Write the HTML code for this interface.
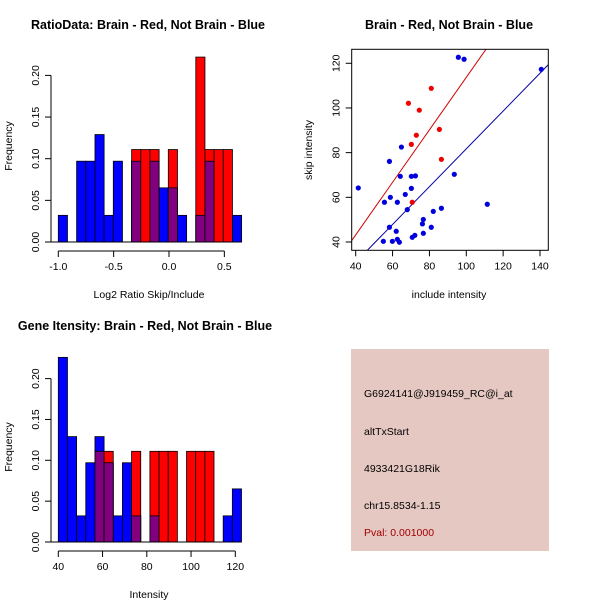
<!DOCTYPE html>
<html><head><meta charset="utf-8"><style>
body{margin:0;background:#fff}
svg{display:block;font-family:"Liberation Sans",sans-serif}
</style></head><body>
<svg id="c" width="600" height="600" xmlns="http://www.w3.org/2000/svg">
<text x="148" y="29" text-anchor="middle" font-weight="bold" font-size="12.5">RatioData: Brain - Red, Not Brain - Blue</text>
<text x="449" y="29" text-anchor="middle" font-weight="bold" font-size="12.5">Brain - Red, Not Brain - Blue</text>
<text x="145" y="330" text-anchor="middle" font-weight="bold" font-size="12.5">Gene Itensity: Brain - Red, Not Brain - Blue</text>
<text x="149" y="298" text-anchor="middle" font-size="10.5">Log2 Ratio Skip/Include</text>
<text x="149" y="598" text-anchor="middle" font-size="10.5">Intensity</text>
<text x="449" y="298" text-anchor="middle" font-size="10.5">include intensity</text>
<text transform="translate(12,146) rotate(-90)" text-anchor="middle" font-size="10.5">Frequency</text>
<text transform="translate(12,447) rotate(-90)" text-anchor="middle" font-size="10.5">Frequency</text>
<text transform="translate(312,150) rotate(-90)" text-anchor="middle" font-size="10.5">skip intensity</text>
<g>
<rect x="351" y="349" width="198" height="202" fill="#e6c8c2"/>
<text x="364" y="397" font-size="10.5">G6924141@J919459_RC@i_at</text>
<text x="364" y="435" font-size="10.5">altTxStart</text>
<text x="364" y="472" font-size="10.5">4933421G18Rik</text>
<text x="364" y="509" font-size="10.5">chr15.8534-1.15</text>
<text x="364" y="536" font-size="10.5" fill="#a00000">Pval: 0.001000</text>
</g>
</svg>
<script>
// ---- data: ratio histogram ----
const ratioBinStart = -1.0;
const ratioBinWidth = 0.0828;
const ratioBlue = [0.032,0,0.097,0.097,0.129,0.032,0.097,0,0.097,0,0.097,0.065,0.065,0.032,0,0.032,0.097,0,0,0.032];
const ratioRed  = [0,0,0,0,0,0,0,0,0.111,0.111,0.111,0,0.111,0,0,0.222,0.111,0.111,0.111,0];
const ratioXTicks = [-1.0,-0.5,0.0,0.5];
const ratioXLabels = ["-1.0","-0.5","0.0","0.5"];
const freqTicks = [0,0.05,0.10,0.15,0.20];
const freqLabels = ["0.00","0.05","0.10","0.15","0.20"];
// ---- data: intensity histogram ----
const intBinStart = 40;
const intBinWidth = 4.14;
const intBlue = [0.226,0.129,0.032,0.097,0.129,0.097,0.032,0.097,0.032,0,0.032,0,0,0,0,0,0,0,0.032,0.065];
const intRed  = [0,0,0,0,0.111,0.111,0,0,0.111,0,0.111,0.111,0.111,0,0.111,0.111,0.111,0,0,0];
const intXTicks = [40,60,80,100,120];
// ---- data: scatter ----
const blueInclude = [41.4,55.6,58.3,58.8,64.8,64.2,62.6,66.9,68,70.2,72.4,70.2,58.3,62,55,59.9,62.6,63.7,70.7,72.1,76.2,76.7,76.7,81,82.1,86.5,93.5,95.7,98.8,111.4,140.7];
const blueSkip    = [64.2,57.8,76.1,60,82.5,69.4,57.8,61.3,54.5,69.4,69.6,64,46.6,44.8,40.3,40.3,41.2,39.9,42.1,43,48.1,50.1,43.9,46.6,53.7,55.1,70.3,122.7,121.8,56.9,117.3];
const redInclude  = [68.6,74.5,81,72.9,70.2,85.4,86.5,70.7];
const redSkip     = [102.1,99,108.8,87.8,83.7,90.4,77,57.8];
const redFit  = [-3.8,1.175];   // intercept, slope
const blueFit = [-2.9,0.846];
const scatXTicks = [40,60,80,100,120,140];
const scatYTicks = [40,60,80,100,120];

const svg = document.getElementById('c');
const NS = 'http://www.w3.org/2000/svg';
function mk(tag, attrs, parent){
  const e = document.createElementNS(NS, tag);
  for (const k in attrs) e.setAttribute(k, attrs[k]);
  (parent||svg).appendChild(e);
  return e;
}
function txt(x,y,s,attrs,parent){const t=mk('text',Object.assign({x:x,y:y,'font-size':10.5,'text-anchor':'middle'},attrs||{}),parent);t.textContent=s;return t;}

function histogram(prefix, xs, ys, binStart, binW, blue, red, xTicks, xLabels, axY, axX){
  const g = mk('g',{});
  
  
  for (let i=0;i<blue.length;i++){
    const x0 = xs(binStart+i*binW), x1 = xs(binStart+(i+1)*binW);
    const b = blue[i], r = red[i];
    if (b>0){
      const e = mk('rect',{x:x0,y:ys(b),width:x1-x0,height:ys(0)-ys(b),fill:'#0000ff',stroke:'#000','stroke-width':0.8},g);
      
      
    }
    if (r>0){
      const e = mk('rect',{x:x0,y:ys(r),width:x1-x0,height:ys(0)-ys(r),fill:'#ff0000',stroke:'#000','stroke-width':0.8},g);
      
      
    }
    const m = Math.min(b,r);
    if (m>0){
      const e = mk('rect',{x:x0,y:ys(m),width:x1-x0,height:ys(0)-ys(m),fill:'#800080',stroke:'#000','stroke-width':0.8},g);
      
      
    }
  }
  // y axis
  const ya = mk('g',{});
  
  
  mk('line',{x1:axX,x2:axX,y1:ys(freqTicks[0]),y2:ys(freqTicks[freqTicks.length-1]),stroke:'#000'},ya);
  freqTicks.forEach((v,i)=>{
    mk('line',{x1:axX,x2:axX-6,y1:ys(v),y2:ys(v),stroke:'#000'},ya);
    const t = txt(0,0,freqLabels[i],{transform:`translate(${axX-12},${ys(v)}) rotate(-90)`},ya);
    
    
  });
  mk('line',{x1:axX,x2:xs(binStart+blue.length*binW),y1:ys(0),y2:ys(0),stroke:'#000'},svg);
  const xa = mk('g',{});
  
  
  mk('line',{x1:xs(xTicks[0]),x2:xs(xTicks[xTicks.length-1]),y1:axY,y2:axY,stroke:'#000'},xa);
  xTicks.forEach((v,i)=>{
    mk('line',{x1:xs(v),x2:xs(v),y1:axY,y2:axY+6,stroke:'#000'},xa);
    const t = txt(xs(v),axY+19,xLabels[i],{},xa);
    
    
  });
}

// ratio histogram scales
const rxs = v => 58.3 + (v+1.0)*110.7;
const rys = v => 242 - v*833;
histogram('ratio', rxs, rys, ratioBinStart, ratioBinWidth, ratioBlue, ratioRed, ratioXTicks, ratioXLabels, 251, 51);
// intensity histogram
const ixs = v => 58.3 + (v-40)*2.2125;
const iys = v => 542 - v*817;
histogram('intensity', ixs, iys, intBinStart, intBinWidth, intBlue, intRed, intXTicks, intXTicks.map(String), 551, 51);

// scatter
const sx = v => 355.7 + (v-40)*1.843;
const sy = v => 242 - (v-40)*2.234;
const L=351.7,R=548.3,T=49.3,B=250.3;
const sg = mk('g',{});


mk('clipPath',{id:'clipS'},sg).appendChild(Object.assign(document.createElementNS(NS,'rect'),{}));
const cr = sg.querySelector('clipPath rect');
cr.setAttribute('x',L);cr.setAttribute('y',T);cr.setAttribute('width',R-L);cr.setAttribute('height',B-T);
function fitLine(f,color,name){
  const xa = 30, xb = 160;
  const l = mk('line',{x1:sx(xa),y1:sy(f[0]+f[1]*xa),x2:sx(xb),y2:sy(f[0]+f[1]*xb),stroke:color,'stroke-width':1,'clip-path':'url(#clipS)'},sg);
  
  
}
fitLine(redFit,'#cc0000','red-fit-line');
fitLine(blueFit,'#0000a0','blue-fit-line');
blueInclude.forEach((v,i)=>{
  const c = mk('circle',{cx:sx(v),cy:sy(blueSkip[i]),r:2.6,fill:'#0000dd'},sg);
  
  
});
redInclude.forEach((v,i)=>{
  const c = mk('circle',{cx:sx(v),cy:sy(redSkip[i]),r:2.6,fill:'#ee0000'},sg);
  
  
});
const box = mk('rect',{x:L,y:T,width:R-L,height:B-T,fill:'none',stroke:'#000'},sg);


scatXTicks.forEach(v=>{
  mk('line',{x1:sx(v),x2:sx(v),y1:B,y2:B+6,stroke:'#000'},sg);
  const t = txt(sx(v),B+19,String(v),{},sg);
  
  
});
scatYTicks.forEach(v=>{
  mk('line',{x1:L,x2:L-6,y1:sy(v),y2:sy(v),stroke:'#000'},sg);
  const t = txt(0,0,String(v),{transform:`translate(${L-12},${sy(v)}) rotate(-90)`},sg);
  
  
});
</script>
</body></html>
